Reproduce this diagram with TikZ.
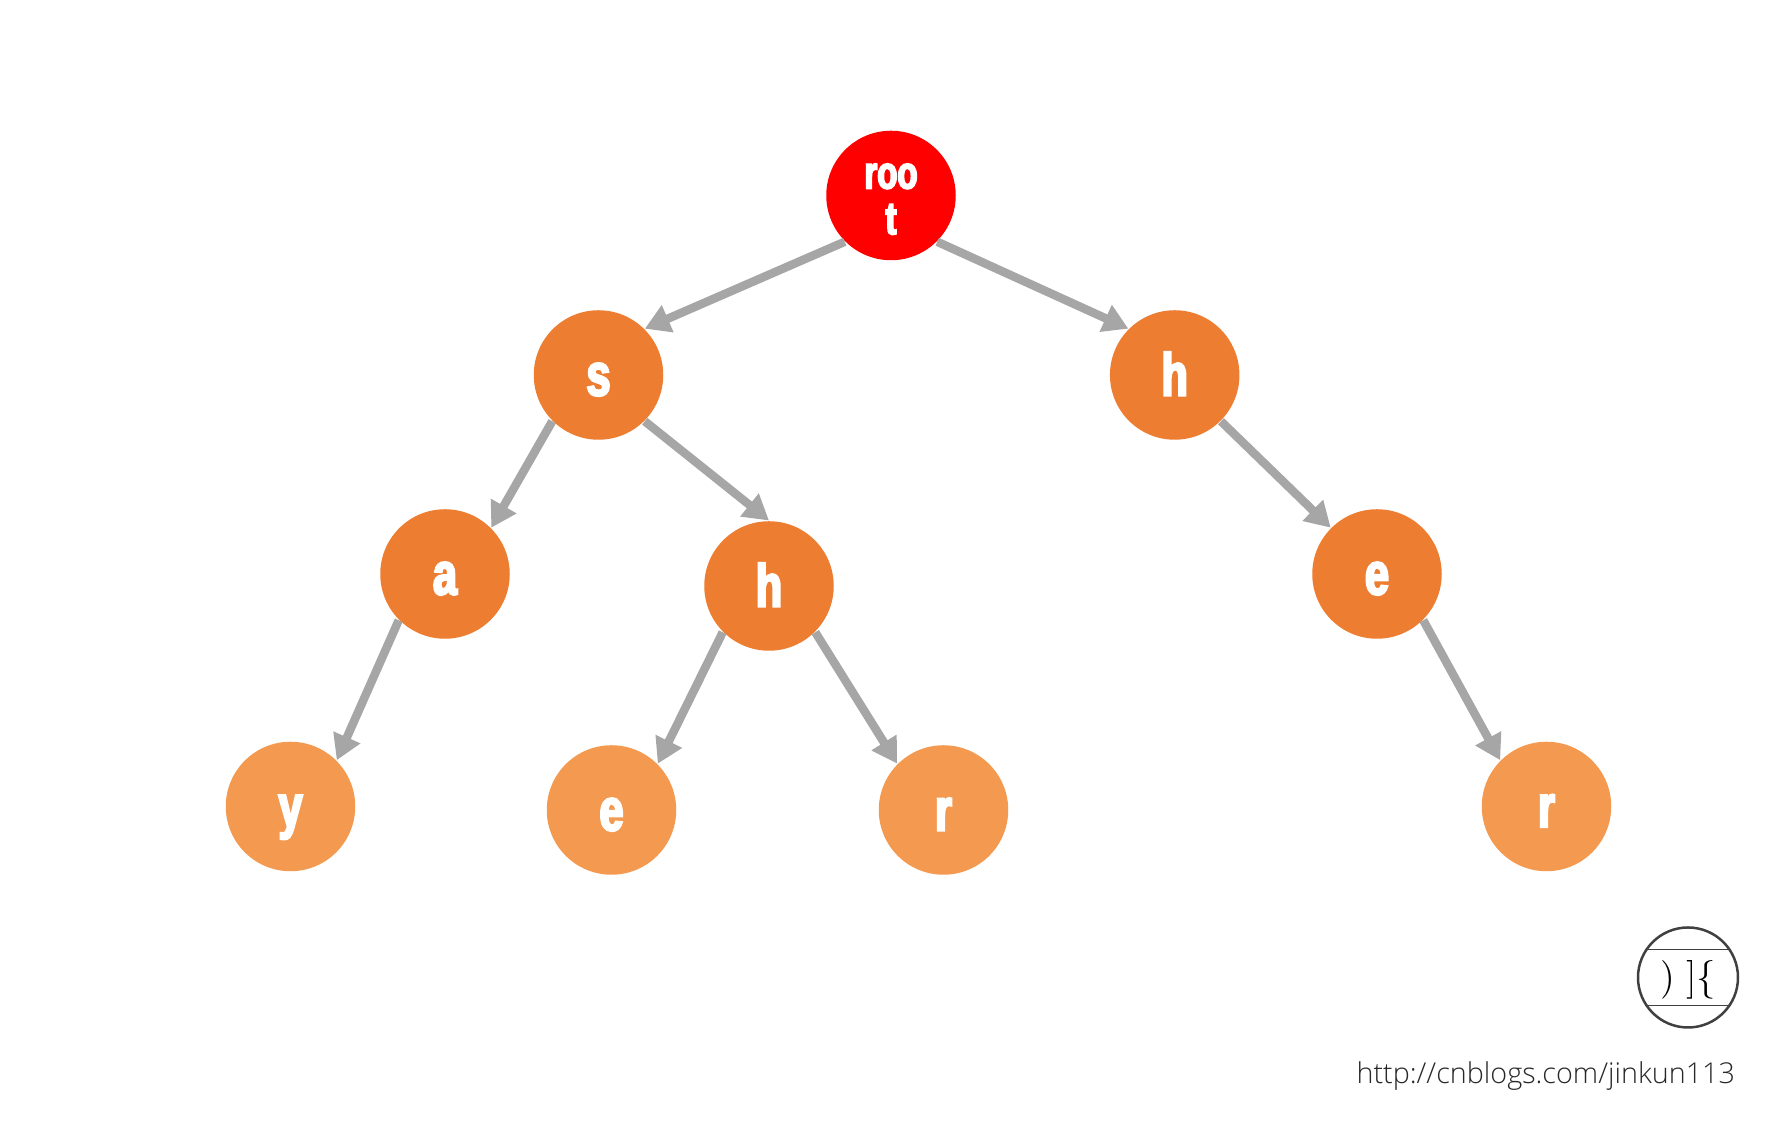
\documentclass[tikz,border=0pt]{standalone}
\usepackage{fontspec}
\usepackage{xcolor}
\usetikzlibrary{arrows.meta,positioning}
\newfontfamily\lettersfont[FakeStretch=0.72,FakeBold=4]{Liberation Sans Bold}
\newfontfamily\weburlfont{Open Sans Light}
\definecolor{r255g0b0}{rgb}{1.000000,0.000000,0.000000}
\definecolor{r237g125b49}{rgb}{0.929412,0.490196,0.192157}
\definecolor{r244g153b80}{rgb}{0.956863,0.600000,0.313725}
\definecolor{r166g166b166}{rgb}{0.650980,0.650980,0.650980}
\definecolor{r64g64b64}{rgb}{0.250000,0.250000,0.250000}
\definecolor{r40g40b40}{rgb}{0.156863,0.156863,0.156863}
\tikzset{
	trienode/.style={circle,draw=none,minimum size=1.295cm,inner sep=0pt,text=white,align=center,text height=11.6pt,text depth=0pt,font=\lettersfont\fontsize{17}{17}\selectfont},
	rootnode/.style={trienode,fill=r255g0b0,text height=,text depth=,font=\lettersfont\fontsize{13}{13}\selectfont},
	innernode/.style={trienode,fill=r237g125b49},
	leafnode/.style={trienode,fill=r244g153b80},
	trieedge/.style={draw=r166g166b166,line width=0.085cm,-{Triangle[length=0.25cm,width=0.28cm]}},
	logoline/.style={draw=r64g64b64,line width=0.006cm},
}
\begin{document}
\begin{tikzpicture}
	\useasboundingbox (0.000000,0.000000) rectangle (17.710000,11.290000);
	{\footnotesize

	% Marking the trie nodes
	\node [rootnode] (root) at (8.910000,9.335000) {\rule{0pt}{9.1pt}roo\\t};
	\node [innernode] (s) at (5.985000,7.540000) {s};
	\node [innernode] (h) at (11.747000,7.540000) {h};
	\node [innernode] (a) at (4.450000,5.550000) {a};
	\node [innernode] (sh) at (7.690000,5.430000) {h};
	\node [innernode] (he) at (13.770000,5.550000) {e};
	\node [leafnode] (y) at (2.905000,3.225000) {y};
	\node [leafnode] (she) at (6.115000,3.190000) {e};
	\node [leafnode] (shr) at (9.435000,3.190000) {r};
	\node [leafnode] (her) at (15.465000,3.225000) {r};

	% Drawing the edges
	\draw [trieedge] (root.225) -- (s.45);
	\draw [trieedge] (root.315) -- (h.135);
	\draw [trieedge] (s.225) -- (a.45);
	\draw [trieedge] (s.315) -- (sh.90);
	\draw [trieedge] (h.315) -- (he.135);
	\draw [trieedge] (a.225) -- (y.45);
	\draw [trieedge] (sh.225) -- (she.45);
	\draw [trieedge] (sh.315) -- (shr.135);
	\draw [trieedge] (he.315) -- (her.135);

	% Marking the logo
	\node [circle,draw=r64g64b64,line width=0.025cm,minimum size=1.00cm,inner sep=0pt] (logo) at (16.880000,1.515000) {};
	\draw [logoline] (logo.147) -- (logo.33);
	\draw [logoline] (logo.213) -- (logo.327);
	\node [text=black,font=\fontsize{11}{11}\selectfont] (logoleft) at (16.680000,1.490000) {)};
	\node [text=black,font=\fontsize{11}{11}\selectfont] (logoright) at (17.010000,1.490000) {]\{};

	% Marking the address
	\node [anchor=east,text=r40g40b40,font=\weburlfont\fontsize{8.17}{10}\selectfont] (weburl) at (17.450000,0.525000) {http://cnblogs.com/jinkun113};
	}
\end{tikzpicture}
\end{document}
